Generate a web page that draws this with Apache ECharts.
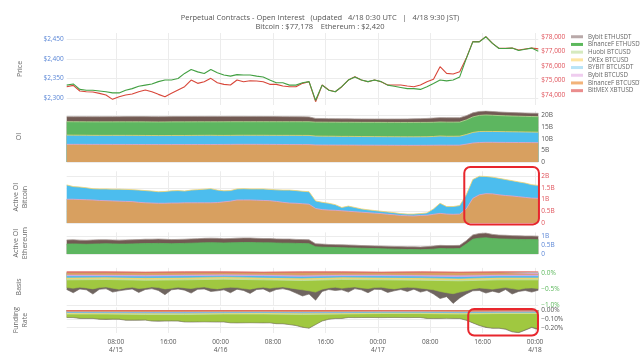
<!DOCTYPE html>
<html><head><meta charset="utf-8">
<script src="https://cdn.jsdelivr.net/npm/echarts@6/dist/echarts.min.js"></script>
<style>html,body{margin:0;padding:0;background:#fff}#c{width:640px;height:360px}</style>
</head><body><div id="c"></div>
<script>
// ---------- data (hour offsets from 4/15 00:00 UTC; hourly series start at 00:30) ----------
const X_START = 0.5;
const xTickHours = [8,16,24,32,40,48,56,64,72];
const xTickLabels = ['08:00\n4/15','16:00','00:00\n4/16','08:00','16:00','00:00\n4/17','08:00','16:00','00:00\n4/18'];
const seriesNames = ['Bybit ETHUSDT','BinanceF ETHUSDT','Huobi BTCUSD','OKEx BTCUSD','BYBIT BTCUSDT','Bybit BTCUSD','BinanceF BTCUSDT','BitMEX XBTUSD'];
const btcLast = 77178, ethLast = 2420;

const ethPrice = [2333,2336,2322,2320,2320,2318,2316,2313,2313,2320,2324,2330,2333,2336,2342,2346,2346,2350,2363,2373,2367,2363,2373,2365,2359,2356,2360,2359,2359,2356,2354,2346,2339,2339,2333,2333,2339,2342,2294,2333,2320,2316,2329,2346,2354,2346,2342,2346,2342,2333,2330,2327,2324,2324,2322,2329,2337,2346,2344,2346,2354,2401,2444,2444,2457,2440,2427,2427,2428,2422,2425,2428,2420];
const btcPrice = [74573,74665,74274,74228,74205,74113,73998,73699,73883,73998,74067,74228,74343,74228,74044,73883,74113,74343,74573,75033,74803,74918,75148,74849,74734,74688,75033,74918,74987,74964,74918,74734,74734,74619,74573,74573,74803,74918,73538,74688,74343,74228,74573,75033,75263,75033,74918,75033,74918,74688,74688,74688,74619,74573,74688,74918,75079,75953,75493,75447,75608,76528,77678,77678,78023,77563,77218,77218,77241,77103,77172,77241,77178];

// Open interest (billion USD) per contract, hourly (stacked bottom -> top)
const oiBinanceBtc = [7.62,7.62,7.61,7.60,7.60,7.59,7.58,7.58,7.57,7.57,7.56,7.55,7.54,7.53,7.52,7.52,7.53,7.53,7.54,7.54,7.54,7.54,7.54,7.55,7.57,7.59,7.62,7.62,7.62,7.61,7.60,7.59,7.57,7.55,7.53,7.52,7.51,7.50,7.36,7.33,7.32,7.31,7.30,7.29,7.28,7.27,7.26,7.25,7.24,7.22,7.21,7.20,7.19,7.19,7.20,7.21,7.23,7.26,7.25,7.24,7.26,7.70,8.20,8.40,8.49,8.48,8.46,8.44,8.42,8.40,8.38,8.36,8.35];
const oiBybitBtcusdt = [4.00,3.95,3.95,3.93,3.90,3.90,3.90,3.91,3.92,3.92,3.92,3.92,3.91,3.90,3.88,3.89,3.91,3.92,3.90,3.93,3.95,3.96,3.98,3.93,3.90,3.89,3.90,3.91,3.90,3.91,3.92,3.91,3.92,3.94,3.96,3.96,3.96,3.96,3.82,3.81,3.80,3.78,3.74,3.76,3.74,3.72,3.71,3.70,3.70,3.69,3.69,3.68,3.68,3.68,3.69,3.70,3.78,3.95,3.85,3.85,3.88,4.15,4.55,4.75,4.70,4.68,4.67,4.64,4.62,4.60,4.58,4.55,4.52];
const oiBinanceEth = [5.78,5.80,5.80,5.81,5.82,5.82,5.83,5.83,5.84,5.84,5.85,5.86,5.86,5.87,5.88,5.88,5.87,5.87,5.88,5.86,5.85,5.84,5.82,5.86,5.88,5.89,5.86,5.85,5.85,5.86,5.86,5.87,5.88,5.88,5.88,5.89,5.90,5.91,6.02,6.05,6.06,6.08,6.10,6.10,6.12,6.13,6.14,6.15,6.16,6.17,6.18,6.19,6.20,6.20,6.19,6.18,6.12,6.05,6.10,6.10,6.08,6.30,6.70,6.95,7.10,7.00,6.90,6.85,6.80,6.76,6.72,6.70,6.68];
const oiBybitEth = [2.15,2.16,2.18,2.20,2.20,2.22,2.23,2.24,2.24,2.25,2.25,2.26,2.27,2.27,2.28,2.28,2.28,2.29,2.29,2.30,2.30,2.30,2.31,2.30,2.29,2.28,2.27,2.27,2.26,2.26,2.25,2.24,2.22,2.20,2.18,2.16,2.12,2.08,1.60,1.55,1.52,1.50,1.48,1.47,1.46,1.45,1.45,1.45,1.45,1.46,1.47,1.48,1.50,1.55,1.62,1.70,1.80,1.88,1.90,1.90,1.88,1.80,1.75,1.72,1.70,1.62,1.55,1.50,1.48,1.46,1.45,1.45,1.45];

// Active OI (billion USD), hourly (stacked bottom -> top)
const actBtcBinance = [1.01,1.01,1.00,0.99,0.98,0.96,0.95,0.94,0.93,0.92,0.91,0.88,0.86,0.85,0.84,0.84,0.85,0.85,0.86,0.86,0.86,0.86,0.86,0.87,0.90,0.93,0.98,0.98,0.98,0.97,0.96,0.95,0.92,0.88,0.85,0.84,0.82,0.80,0.62,0.57,0.55,0.54,0.52,0.50,0.48,0.46,0.44,0.42,0.40,0.37,0.35,0.32,0.31,0.30,0.32,0.33,0.37,0.41,0.38,0.37,0.38,0.60,1.05,1.20,1.25,1.24,1.20,1.17,1.15,1.12,1.09,1.06,1.05];
const actBtcBybit = [0.61,0.54,0.53,0.51,0.48,0.49,0.50,0.50,0.51,0.51,0.51,0.52,0.52,0.51,0.49,0.50,0.52,0.53,0.50,0.54,0.56,0.58,0.60,0.53,0.47,0.45,0.47,0.48,0.47,0.48,0.49,0.48,0.49,0.52,0.55,0.54,0.53,0.53,0.32,0.31,0.29,0.24,0.14,0.22,0.18,0.14,0.12,0.11,0.10,0.10,0.09,0.08,0.07,0.08,0.08,0.10,0.23,0.43,0.32,0.33,0.36,0.60,0.80,0.79,0.73,0.71,0.70,0.68,0.65,0.63,0.61,0.57,0.55];
const actEthBinance = [0.55,0.56,0.55,0.54,0.55,0.56,0.57,0.56,0.55,0.55,0.56,0.57,0.58,0.58,0.59,0.58,0.57,0.58,0.59,0.60,0.61,0.62,0.63,0.62,0.61,0.62,0.63,0.64,0.64,0.63,0.62,0.62,0.61,0.60,0.60,0.59,0.58,0.57,0.40,0.38,0.37,0.36,0.35,0.34,0.33,0.32,0.31,0.30,0.29,0.28,0.27,0.26,0.25,0.25,0.24,0.25,0.27,0.30,0.29,0.29,0.30,0.55,0.82,0.88,0.90,0.86,0.84,0.83,0.82,0.81,0.80,0.80,0.79];
const actEthBybit = [0.23,0.23,0.22,0.22,0.23,0.23,0.22,0.22,0.22,0.23,0.23,0.23,0.24,0.24,0.24,0.24,0.23,0.23,0.23,0.24,0.24,0.25,0.25,0.25,0.24,0.24,0.25,0.25,0.25,0.24,0.24,0.24,0.23,0.23,0.23,0.22,0.22,0.22,0.17,0.17,0.16,0.16,0.16,0.16,0.16,0.15,0.15,0.15,0.15,0.15,0.15,0.15,0.15,0.15,0.15,0.16,0.17,0.18,0.18,0.18,0.18,0.19,0.24,0.26,0.26,0.23,0.21,0.21,0.20,0.20,0.20,0.20,0.20];

// Basis (%): level of each layered band; ETH hourly, BTC every 6 h
const basisBybitEth = [-0.52,-0.62,-0.50,-0.53,-0.66,-0.51,-0.49,-0.60,-0.56,-0.53,-0.50,-0.61,-0.52,-0.49,-0.55,-0.68,-0.53,-0.50,-0.54,-0.63,-0.51,-0.50,-0.58,-0.56,-0.53,-0.62,-0.51,-0.55,-0.64,-0.52,-0.50,-0.60,-0.52,-0.49,-0.54,-0.63,-0.72,-0.66,-0.85,-0.58,-0.52,-0.55,-0.53,-0.60,-0.49,-0.53,-0.62,-0.51,-0.52,-0.61,-0.56,-0.52,-0.58,-0.51,-0.60,-0.55,-0.66,-0.80,-0.74,-0.95,-0.78,-0.66,-0.56,-0.55,-0.63,-0.57,-0.62,-0.52,-0.66,-0.58,-0.55,-0.60,-0.54];
const basisBinanceEth = [-0.46,-0.48,-0.45,-0.47,-0.50,-0.46,-0.44,-0.48,-0.51,-0.47,-0.45,-0.49,-0.47,-0.44,-0.46,-0.50,-0.48,-0.45,-0.47,-0.49,-0.46,-0.44,-0.48,-0.50,-0.47,-0.45,-0.46,-0.49,-0.51,-0.47,-0.45,-0.48,-0.46,-0.44,-0.47,-0.50,-0.53,-0.56,-0.60,-0.51,-0.47,-0.45,-0.48,-0.46,-0.44,-0.47,-0.49,-0.46,-0.45,-0.48,-0.50,-0.47,-0.45,-0.46,-0.48,-0.50,-0.53,-0.58,-0.62,-0.65,-0.60,-0.56,-0.50,-0.47,-0.49,-0.51,-0.48,-0.46,-0.49,-0.52,-0.48,-0.47,-0.49];
const basisHuobi = [-0.22,-0.21,-0.23,-0.22,-0.20,-0.22,-0.24,-0.21,-0.22,-0.23,-0.25,-0.22,-0.22];
const basisOkex = [-0.18,-0.17,-0.19,-0.18,-0.16,-0.18,-0.20,-0.17,-0.18,-0.19,-0.21,-0.18,-0.18];
const basisBybitBtcusdt = [-0.14,-0.13,-0.15,-0.14,-0.12,-0.14,-0.16,-0.13,-0.14,-0.15,-0.17,-0.14,-0.14];
const basisBybitBtcusd = [-0.09,-0.09,-0.10,-0.09,-0.08,-0.09,-0.11,-0.09,-0.09,-0.10,-0.12,-0.09,-0.09];
const basisBinanceBtc = [-0.05,-0.05,-0.06,-0.05,-0.04,-0.05,-0.07,-0.05,-0.05,-0.06,-0.07,-0.05,-0.05];
const basisBitmex = [0.03,0.03,0.02,0.03,0.03,0.02,0.03,0.03,0.02,0.03,0.02,0.03,0.03];

// Funding rate (%): level of each layered band
const fundBybitEth = [-0.085,-0.086,-0.095,-0.096,-0.095,-0.105,-0.106,-0.104,-0.105,-0.115,-0.116,-0.115,-0.114,-0.125,-0.126,-0.125,-0.124,-0.125,-0.135,-0.136,-0.135,-0.134,-0.135,-0.136,-0.135,-0.145,-0.146,-0.145,-0.144,-0.145,-0.146,-0.145,-0.155,-0.156,-0.165,-0.176,-0.195,-0.206,-0.165,-0.125,-0.105,-0.096,-0.095,-0.085,-0.086,-0.085,-0.084,-0.085,-0.086,-0.085,-0.084,-0.085,-0.086,-0.085,-0.085,-0.095,-0.096,-0.095,-0.094,-0.095,-0.096,-0.116,-0.146,-0.176,-0.197,-0.207,-0.206,-0.218,-0.247,-0.257,-0.228,-0.198,-0.222];
const fundBinanceEth = [-0.08,-0.08,-0.09,-0.09,-0.09,-0.10,-0.10,-0.10,-0.10,-0.11,-0.11,-0.11,-0.11,-0.12,-0.12,-0.12,-0.12,-0.12,-0.13,-0.13,-0.13,-0.13,-0.13,-0.13,-0.13,-0.14,-0.14,-0.14,-0.14,-0.14,-0.14,-0.14,-0.15,-0.15,-0.16,-0.17,-0.19,-0.20,-0.16,-0.12,-0.10,-0.09,-0.09,-0.08,-0.08,-0.08,-0.08,-0.08,-0.08,-0.08,-0.08,-0.08,-0.08,-0.08,-0.08,-0.09,-0.09,-0.09,-0.09,-0.09,-0.09,-0.11,-0.14,-0.17,-0.19,-0.20,-0.20,-0.21,-0.24,-0.25,-0.22,-0.19,-0.21];
const fundHuobi = [-0.045,-0.045,-0.05,-0.05,-0.045,-0.045,-0.05,-0.045,-0.04,-0.04,-0.045,-0.04,-0.04];
const fundOkex = [-0.035,-0.036,-0.04,-0.04,-0.036,-0.035,-0.04,-0.036,-0.032,-0.032,-0.036,-0.032,-0.032];
const fundBybitBtcusdt = [-0.028,-0.03,-0.032,-0.033,-0.03,-0.028,-0.032,-0.03,-0.026,-0.026,-0.03,-0.026,-0.026];
const fundBybitBtcusd = [-0.02,-0.021,-0.022,-0.023,-0.021,-0.02,-0.022,-0.021,-0.018,-0.018,-0.021,-0.018,-0.018];
const fundBinanceBtc = [-0.014,-0.015,-0.016,-0.016,-0.015,-0.014,-0.016,-0.015,-0.012,-0.012,-0.015,-0.012,-0.012];
const fundBitmex = [-0.008,-0.008,-0.009,-0.009,-0.008,-0.008,-0.009,-0.008,-0.007,-0.007,-0.008,-0.007,-0.007];

// ---------- chart ----------
const FONT = "'Open Sans', 'DejaVu Sans', sans-serif";
const chart = echarts.init(document.getElementById('c'), null, {renderer:'canvas', width:640, height:360});
const pts = (arr, step) => arr.map((v, i) => [X_START + i * step, v]);
// running totals of stacked arrays (same hourly x for all) -> band tops
function cumulate(arrs) {
  const out = []; let acc = arrs[0].map(() => 0);
  arrs.forEach(a => { acc = acc.map((s, i) => +(s + a[i]).toFixed(4)); out.push(acc); });
  return out;
}

const C = {
  bybitEth:'#725a53', bybitEthLine:'#a39591',
  binEth:'#5db660', huobiLine:'#b8dc95',
  huobi:'#c5e1a5', okex:'#f4d36c', bybitUsdt:'#4cbdee', bybitUsd:'#d9a6e3', pinkLine:'#e2a3d3',
  binBtc:'#d8a060', bitmex:'#e06a5e',
  ethPrice:'#43a043', btcPrice:'#d8473a', basisEth:'#a0c840', basisEdge:'#6f6560'
};
const legendColors = ['#b9a9a9','#5cb85c','#d6eabf','#fde5a2','#b9e4f7','#efcdef','#f2b37a','#ea8d8d'];

const gridDefs = [
  {top:33, height:72},
  {top:111, height:51},
  {top:171.3, height:51.7},
  {top:232.4, height:21.6},
  {top:267.9, height:38.1},
  {top:307.35, height:25.65}
];
const grids = gridDefs.map(g => ({left:66.7, right:101.7, top:g.top, height:g.height}));

const xAxes = gridDefs.map((g, i) => ({
  type:'value', gridIndex:i, min:0.5, max:72.5,
  axisLine:{show:false}, axisTick:{show:false, customValues:xTickHours},
  splitLine:{show:true, lineStyle:{color:'#ececec', width:1}},
  axisLabel:{show:i === 5, customValues:xTickHours, fontSize:6.5, color:'#555', lineHeight:8, margin:5, fontFamily:FONT,
    formatter:v => { const k = xTickHours.indexOf(Math.round(v)); return k >= 0 ? xTickLabels[k] : ''; }}
}));

function sideAxis(gi, pos, min, max, ticks, fmt, color, split) {
  return {type:'value', gridIndex:gi, position:pos, min, max,
    axisLine:{show:false}, axisTick:{show:false, customValues:ticks},
    splitLine:{show:split, lineStyle:{color:'#ececec', width:1}},
    axisLabel:{customValues:ticks, formatter:fmt, fontSize:6.5, color, margin:3, fontFamily:FONT}};
}
function nameAxis(gi, name, gap) {
  return {type:'value', gridIndex:gi, position:'left', min:0, max:1, name, nameLocation:'middle', nameGap:gap, nameRotate:90,
    nameTextStyle:{fontSize:7, color:'#666', lineHeight:8.5, fontFamily:FONT},
    axisLine:{show:false}, axisTick:{show:false}, axisLabel:{show:false}, splitLine:{show:false}};
}
const money = v => '$' + Math.round(v).toLocaleString('en-US');
const minus = s => s.replace('-', '\u2212');
const bFmt = v => v === 0 ? '0' : (v + 'B');

const yAxes = [
  Object.assign(sideAxis(0,'left',2282,2466.7,[2300,2350,2400,2450],money,'#5a86d6',true), {name:'Price', nameLocation:'middle', nameGap:43, nameRotate:90, nameTextStyle:{fontSize:7,color:'#666',fontFamily:FONT}}),
  sideAxis(0,'right',73310,78276,[74000,75000,76000,77000,78000],money,'#e0525a',false),
  sideAxis(1,'right',0,22,[0,5,10,15,20],bFmt,'#555',true),
  nameAxis(1,'OI',43),
  sideAxis(2,'right',0,2.2,[0,0.5,1,1.5,2],bFmt,'#e0525a',true),
  nameAxis(2,'Active OI\nBitcoin',37.5),
  sideAxis(3,'right',0,1.2,[0,0.5,1],bFmt,'#5a86d6',true),
  nameAxis(3,'Active OI\nEthereum',37.5),
  sideAxis(4,'right',-1.03,0.15,[-1,-0.5,0],v => minus(v.toFixed(1) + '%'),'#5cb85c',true),
  nameAxis(4,'Basis',43),
  sideAxis(5,'right',-0.26,0.03,[-0.2,-0.1,0],v => minus(v.toFixed(2) + '%'),'#555',true),
  nameAxis(5,'Funding\nRate',37.5)
];

const series = [];
function line(name, xi, yi, data, color, width) {
  series.push({type:'line', name, xAxisIndex:xi, yAxisIndex:yi, data, showSymbol:false, silent:true,
    lineStyle:{color, width}, itemStyle:{color}});
}
function band(name, xi, yi, data, fill, edge, ew) {
  series.push({type:'line', name, xAxisIndex:xi, yAxisIndex:yi, data, showSymbol:false, silent:true,
    lineStyle:{color:edge, width:ew || 0.8}, itemStyle:{color:fill}, areaStyle:{color:fill, opacity:1, origin:'start'}});
}
function bandSigned(name, xi, yi, data, fill, edge, ew) {
  series.push({type:'line', name, xAxisIndex:xi, yAxisIndex:yi, data, showSymbol:false, silent:true,
    lineStyle:{color:edge, width:ew || 0.8}, itemStyle:{color:fill}, areaStyle:{color:fill, opacity:1}});
}
// price
line('BitMEX XBTUSD', 0, 1, pts(btcPrice,1), C.btcPrice, 1.1);
line('BinanceF ETHUSDT', 0, 0, pts(ethPrice,1), C.ethPrice, 1.1);
// OI: stacked bands drawn top band first
const oiLv = cumulate([oiBinanceBtc, oiBybitBtcusdt, oiBinanceEth, oiBybitEth]);
band('Bybit ETHUSDT', 1, 2, pts(oiLv[3],1), C.bybitEth, C.bybitEthLine);
band('BinanceF ETHUSDT', 1, 2, pts(oiLv[2],1), C.binEth, C.huobiLine);
band('BYBIT BTCUSDT', 1, 2, pts(oiLv[1],1), C.bybitUsdt, C.okex);
band('BinanceF BTCUSDT', 1, 2, pts(oiLv[0],1), C.binBtc, C.pinkLine);
// Active OI BTC
const abLv = cumulate([actBtcBinance, actBtcBybit]);
band('BYBIT BTCUSDT', 2, 4, pts(abLv[1],1), C.bybitUsdt, C.okex);
band('BinanceF BTCUSDT', 2, 4, pts(abLv[0],1), C.binBtc, C.pinkLine);
// Active OI ETH
const aeLv = cumulate([actEthBinance, actEthBybit]);
band('Bybit ETHUSDT', 3, 6, pts(aeLv[1],1), C.bybitEth, C.bybitEthLine);
band('BinanceF ETHUSDT', 3, 6, pts(aeLv[0],1), C.binEth, C.binEth);
// Basis (layered, deepest first, filled to zero)
bandSigned('Bybit ETHUSDT', 4, 8, pts(basisBybitEth,1), C.basisEdge, C.basisEdge, 0.6);
bandSigned('BinanceF ETHUSDT', 4, 8, pts(basisBinanceEth,1), C.basisEth, C.basisEth, 0.6);
bandSigned('Huobi BTCUSD', 4, 8, pts(basisHuobi,6), C.huobi, C.huobi);
bandSigned('OKEx BTCUSD', 4, 8, pts(basisOkex,6), C.okex, C.okex);
bandSigned('BYBIT BTCUSDT', 4, 8, pts(basisBybitBtcusdt,6), C.bybitUsdt, C.bybitUsdt);
bandSigned('Bybit BTCUSD', 4, 8, pts(basisBybitBtcusd,6), C.bybitUsd, C.bybitUsd);
bandSigned('BinanceF BTCUSDT', 4, 8, pts(basisBinanceBtc,6), C.binBtc, C.binBtc);
bandSigned('BitMEX XBTUSD', 4, 8, pts(basisBitmex,6), C.bitmex, C.bitmex);
// Funding (layered, deepest first)
bandSigned('Bybit ETHUSDT', 5, 10, pts(fundBybitEth,1), C.basisEdge, C.basisEdge, 0.6);
bandSigned('BinanceF ETHUSDT', 5, 10, pts(fundBinanceEth,1), C.basisEth, C.basisEth, 0.6);
bandSigned('Huobi BTCUSD', 5, 10, pts(fundHuobi,6), C.huobi, C.huobi);
bandSigned('OKEx BTCUSD', 5, 10, pts(fundOkex,6), C.okex, C.okex);
bandSigned('BYBIT BTCUSDT', 5, 10, pts(fundBybitBtcusdt,6), C.bybitUsdt, C.bybitUsdt);
bandSigned('Bybit BTCUSD', 5, 10, pts(fundBybitBtcusd,6), C.bybitUsd, C.bybitUsd);
bandSigned('BinanceF BTCUSDT', 5, 10, pts(fundBinanceBtc,6), C.binBtc, C.binBtc);
bandSigned('BitMEX XBTUSD', 5, 10, pts(fundBitmex,6), C.bitmex, C.bitmex);

const titleText = 'Perpetual Contracts - Open Interest   (updated   4/18 0:30 UTC   |   4/18 9:30 JST)\n' +
  'Bitcoin : $' + btcLast.toLocaleString('en-US') + '    Ethereum : $' + ethLast.toLocaleString('en-US');

chart.setOption({
  animation:false,
  backgroundColor:'#fff',
  textStyle:{fontFamily:FONT},
  title:{text:titleText, left:'center', top:8, textStyle:{fontSize:7.5, fontWeight:'normal', color:'#555', lineHeight:9, fontFamily:FONT}},
  legend:{orient:'vertical', left:571, top:33.5, itemWidth:12, itemHeight:3, itemGap:1.2, icon:'rect', selectedMode:false, padding:0,
    textStyle:{fontSize:6.2, color:'#666', lineHeight:6.5, fontFamily:FONT},
    data:seriesNames.map((n, i) => ({name:n, icon:'rect', itemStyle:{color:legendColors[i]}}))},
  grid:grids, xAxis:xAxes, yAxis:yAxes, series
});

// annotation boxes (data coordinates)
const annots = [
  {xAxisIndex:2, yAxisIndex:4, x0:61.2, x1:72.6, y0:-0.06, y1:2.38},
  {xAxisIndex:5, yAxisIndex:10, x0:61.8, x1:72.45, y0:-0.288, y1:0.011}
];
const gr = annots.map(a => {
  const p0 = chart.convertToPixel({xAxisIndex:a.xAxisIndex, yAxisIndex:a.yAxisIndex}, [a.x0, a.y1]);
  const p1 = chart.convertToPixel({xAxisIndex:a.xAxisIndex, yAxisIndex:a.yAxisIndex}, [a.x1, a.y0]);
  return {type:'rect', silent:true, z:100, shape:{x:p0[0], y:p0[1], width:p1[0]-p0[0], height:p1[1]-p0[1], r:6},
    style:{fill:'none', stroke:'#e8262d', lineWidth:2}};
});
chart.setOption({graphic:gr});
</script>
</body></html>
